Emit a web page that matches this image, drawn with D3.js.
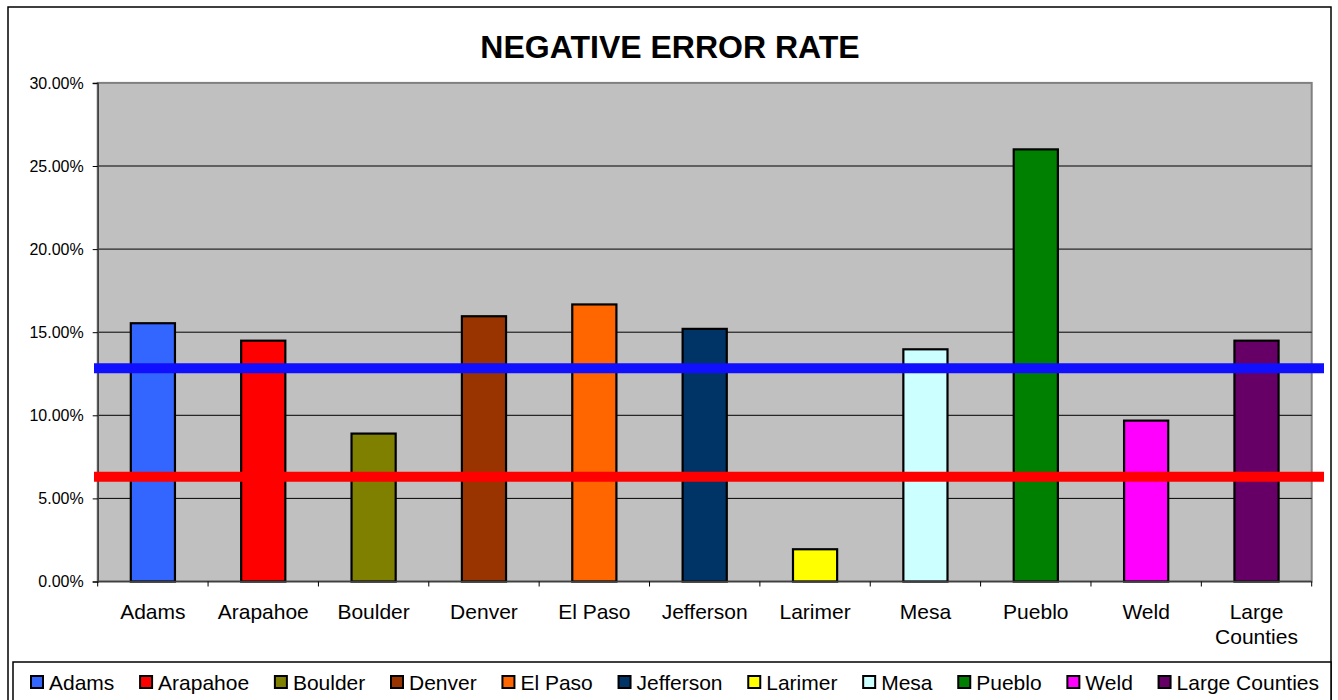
<!DOCTYPE html>
<html>
<head>
<meta charset="utf-8">
<script src="https://cdn.jsdelivr.net/npm/d3@7"></script>
<style>
  html, body { margin: 0; padding: 0; background: #fff; }
  svg { display: block; font-family: "Liberation Sans", Arial, sans-serif; }
</style>
</head>
<body>
<svg id="chart" width="1338" height="700"></svg>
<script>
const categories = ["Adams", "Arapahoe", "Boulder", "Denver", "El Paso", "Jefferson", "Larimer", "Mesa", "Pueblo", "Weld", "Large Counties"];
const values = [0.1554, 0.1449, 0.0890, 0.1596, 0.1667, 0.1520, 0.0194, 0.1397, 0.2600, 0.0968, 0.1449];
const colors = ["#3366FF", "#FF0000", "#808000", "#993300", "#FF6600", "#003366", "#FFFF00", "#CCFFFF", "#008000", "#FF00FF", "#660066"];
const yTicks = [0, 0.05, 0.10, 0.15, 0.20, 0.25, 0.30];
const refLines = [
  { value: 0.1283, color: "#1010FF" },
  { value: 0.0631, color: "#FF0000" }
];
const title = "NEGATIVE ERROR RATE";

const svg = d3.select("#chart");
const plot = { left: 97.7, right: 1311.7, top: 82.9, bottom: 581.5 };

// outer chart border
svg.append("rect").attr("x", 8).attr("y", 7).attr("width", 1323).attr("height", 710)
  .attr("fill", "#fff").attr("stroke", "#000").attr("stroke-width", 1.5);

const x = d3.scaleBand().domain(categories).range([plot.left, plot.right])
  .paddingInner(0.6).paddingOuter(0.3);
const y = d3.scaleLinear().domain([0, 0.30]).range([plot.bottom, plot.top]);

// title
svg.append("text").attr("x", 670).attr("y", 58).attr("text-anchor", "middle")
  .attr("font-size", 32).attr("font-weight", "bold").attr("fill", "#000").text(title);

// plot area
svg.append("rect").attr("x", plot.left).attr("y", plot.top)
  .attr("width", plot.right - plot.left).attr("height", plot.bottom - plot.top)
  .attr("fill", "#C0C0C0").attr("stroke", "#808080").attr("stroke-width", 2);

// gridlines
svg.append("g").selectAll("line").data(yTicks.filter(d => d > 0 && d < 0.30)).join("line")
  .attr("x1", plot.left).attr("x2", plot.right)
  .attr("y1", d => y(d)).attr("y2", d => y(d))
  .attr("stroke", "#000").attr("stroke-width", 1);

// y axis
const yAxis = d3.axisLeft(y).tickValues(yTicks).tickFormat(d3.format(".2%")).tickSize(5).tickPadding(9);
const gy = svg.append("g").attr("transform", `translate(${plot.left},0)`).call(yAxis);
gy.select(".domain").attr("stroke", "#404040").attr("stroke-width", 1.5);
gy.selectAll(".tick line").attr("stroke", "#000");
gy.selectAll(".tick text").attr("font-size", 16).attr("fill", "#000")
  .attr("font-family", "Liberation Sans, Arial, sans-serif");

// bars
svg.append("g").selectAll("rect").data(categories).join("rect")
  .attr("x", d => x(d)).attr("width", x.bandwidth())
  .attr("y", (d, i) => y(values[i])).attr("height", (d, i) => y(0) - y(values[i]))
  .attr("fill", (d, i) => colors[i]).attr("stroke", "#000").attr("stroke-width", 2.2);

// x axis
const gx = svg.append("g").attr("transform", `translate(0,${plot.bottom})`);
gx.append("line").attr("x1", plot.left).attr("x2", plot.right).attr("y1", 0).attr("y2", 0)
  .attr("stroke", "#404040").attr("stroke-width", 1.5);
const step = x.step();
const bounds = d3.range(categories.length + 1).map(i => plot.left + i * step);
gx.selectAll("line.tk").data(bounds).join("line").attr("class", "tk")
  .attr("x1", d => d).attr("x2", d => d).attr("y1", 0).attr("y2", 5)
  .attr("stroke", "#000").attr("stroke-width", 1);
gx.selectAll("text").data(categories).join("text")
  .attr("x", d => x(d) + x.bandwidth() / 2)
  .attr("text-anchor", "middle").attr("font-size", 21).attr("fill", "#000")
  .each(function(d) {
    const t = d3.select(this);
    const lines = d === "Large Counties" ? ["Large", "Counties"] : [d];
    lines.forEach((ln, k) => {
      t.append("tspan").attr("x", x(d) + x.bandwidth() / 2).attr("y", 37 + k * 25).text(ln);
    });
  });

// reference lines
svg.append("g").selectAll("line").data(refLines).join("line")
  .attr("x1", 94).attr("x2", 1324)
  .attr("y1", d => y(d.value)).attr("y2", d => y(d.value))
  .attr("stroke", d => d.color).attr("stroke-width", 10);

// legend
const lg = svg.append("g");
lg.append("rect").attr("x", 13).attr("y", 662).attr("width", 1318).attr("height", 60)
  .attr("fill", "#fff").attr("stroke", "#000").attr("stroke-width", 1.5);
const items = lg.selectAll("g.item").data(categories).join("g").attr("class", "item");
items.append("rect").attr("width", 12).attr("height", 12).attr("y", 676)
  .attr("fill", (d, i) => colors[i]).attr("stroke", "#000").attr("stroke-width", 2);
items.append("text").attr("y", 689.5).attr("font-size", 21).attr("fill", "#000").text(d => d);
// layout legend items sequentially, fitted between the reference's first and last item edges
let widths = [];
items.select("text").each(function() { widths.push(this.getComputedTextLength()); });
const swGap = 6, startX = 30, endX = 1319;
const itemGap = (endX - startX - d3.sum(widths) - categories.length * (13 + swGap)) / (categories.length - 1);
let cx = startX;
items.each(function(d, i) {
  const g = d3.select(this);
  g.select("rect").attr("x", cx + 1);
  g.select("text").attr("x", cx + 13 + swGap);
  cx += 13 + swGap + widths[i] + itemGap;
});
</script>
</body>
</html>
